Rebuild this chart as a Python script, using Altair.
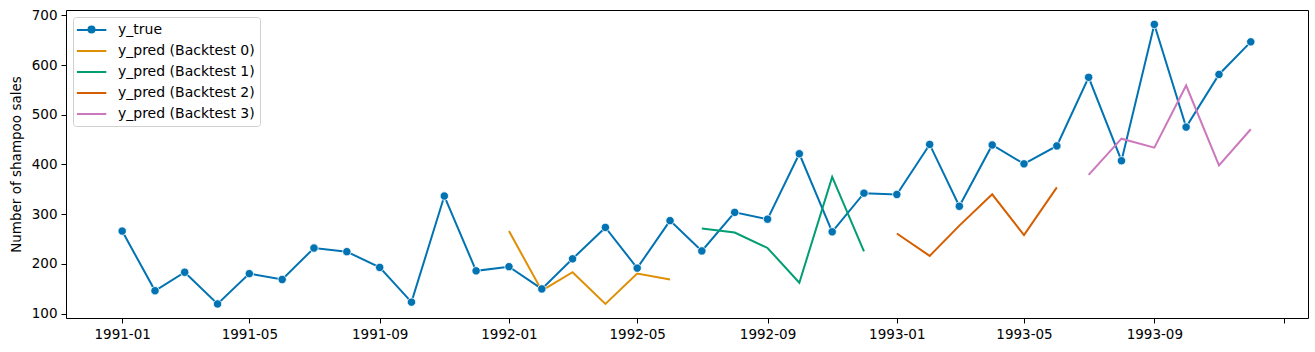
import altair as alt
import pandas as pd

# ---- data ----
true_dates = pd.date_range("1991-01-01", periods=36, freq="MS").strftime("%Y-%m-%dT00:00:00").tolist()
y_true = [266.0, 145.9, 183.1, 119.3, 180.3, 168.5, 231.8, 224.5, 192.8, 122.9, 336.5, 185.9,
          194.3, 149.5, 210.1, 273.3, 191.4, 287.0, 226.0, 303.6, 289.9, 421.6, 264.5, 342.3,
          339.7, 440.4, 315.9, 439.3, 401.3, 437.4, 575.5, 407.6, 682.0, 475.3, 581.3, 646.9]

bt_names = ["y_pred (Backtest 0)", "y_pred (Backtest 1)", "y_pred (Backtest 2)", "y_pred (Backtest 3)"]
bt_values = [
    [266.0, 145.9, 183.1, 119.3, 180.3, 168.5],
    [271.0, 263.0, 232.0, 162.0, 375.0, 225.0],
    [261.0, 216.0, 277.0, 340.0, 258.0, 354.0],
    [379.0, 452.0, 434.0, 559.0, 398.0, 471.0],
]
bt_start = [12, 18, 24, 30]

series_names = ["y_true"] + bt_names
colors = ["#0173b2", "#de8f05", "#029e73", "#d55e00", "#cc78bc"]

rows = [{"date": d, "value": v, "series": "y_true"} for d, v in zip(true_dates, y_true)]
for name, vals, s in zip(bt_names, bt_values, bt_start):
    for i, v in enumerate(vals):
        rows.append({"date": true_dates[s + i], "value": v, "series": name})
df = pd.DataFrame(rows)
df_true = df[df.series == "y_true"]

tick_values = [alt.DateTime(year=y, month=m, date=1) for y, m in
               [(1991, 1), (1991, 5), (1991, 9), (1992, 1), (1992, 5), (1992, 9),
                (1993, 1), (1993, 5), (1993, 9), (1994, 1)]]

x_scale = alt.Scale(domain=[alt.DateTime(year=1990, month=11, date=9),
                            alt.DateTime(year=1994, month=1, date=24)])
y_scale = alt.Scale(domain=[91, 711], nice=False, zero=False)

x_enc = alt.X(
    "date:T", title=None, scale=x_scale,
    axis=alt.Axis(values=tick_values, format="%Y-%m",
                  labelExpr="year(datum.value) >= 1994 ? '' : datum.label",
                  grid=False, tickSize=5, labelPadding=4, labelFontSize=13.5,
                  labelColor="black", tickColor="black", domainColor="black"),
)
y_enc = alt.Y(
    "value:Q", title="Number of shampoo sales", scale=y_scale,
    axis=alt.Axis(values=[100, 200, 300, 400, 500, 600, 700], grid=False, tickSize=5,
                  labelPadding=4, labelFontSize=13.5, titleFontSize=13.5, titleFontWeight="normal",
                  titlePadding=8, labelColor="black", tickColor="black", domainColor="black",
                  titleColor="black"),
)

color_enc = alt.Color(
    "series:N",
    scale=alt.Scale(domain=series_names, range=colors),
    legend=alt.Legend(title=None, orient="top-left", offset=7,
                      symbolType="M-1.3,0H2.9", symbolSize=196,
                      symbolStrokeWidth=2, labelFontSize=14,
                      labelColor="black", rowPadding=6, padding=5, labelOffset=24,
                      strokeColor="#d0d0d0", fillColor="white", cornerRadius=3,
                      labelLimit=300),
)

lines = alt.Chart(df).mark_line(strokeWidth=2).encode(
    x=x_enc, y=y_enc, color=color_enc, detail="series:N"
)

# marker for the y_true legend entry (a one-entry shape legend laid over the first row)
marker_size = 64
points = alt.Chart(df_true).mark_point(
    filled=True, size=70, opacity=1, stroke="white", strokeWidth=0.8, color="#0173b2"
).encode(
    x=alt.X("date:T", scale=x_scale, axis=None),
    y=alt.Y("value:Q", scale=y_scale, axis=None),
    shape=alt.Shape("series:N", scale=alt.Scale(domain=["y_true"], range=["circle"]),
                    legend=alt.Legend(title=None, orient="none", legendX=21, legendY=15,
                                      labelExpr="''", labelFontSize=1, padding=0,
                                      symbolSize=marker_size, symbolFillColor="#0173b2",
                                      symbolStrokeColor="white", symbolStrokeWidth=0.8,
                                      symbolOpacity=1, zindex=1)),
)

# frame (top and right spines) drawn as axes
frame = alt.Chart(df_true).mark_point(opacity=0).encode(
    x=alt.X("date:T", scale=x_scale,
            axis=alt.Axis(orient="top", title=None, labels=False, ticks=False, grid=False,
                          domainColor="black")),
    y=alt.Y("value:Q", scale=y_scale,
            axis=alt.Axis(orient="right", title=None, labels=False, ticks=False, grid=False,
                          domainColor="black")),
)

chart = alt.layer(lines, points, frame).resolve_axis(
    x="independent", y="independent"
).properties(
    width=1242, height=308,
    autosize=alt.AutoSizeParams(type="none"),
    padding={"left": 66, "top": 10, "right": 7, "bottom": 34},
).configure_view(stroke=None).configure(
    font="DejaVu Sans"
)

chart.save("out.html", embed_options={"renderer": "svg", "actions": False})
